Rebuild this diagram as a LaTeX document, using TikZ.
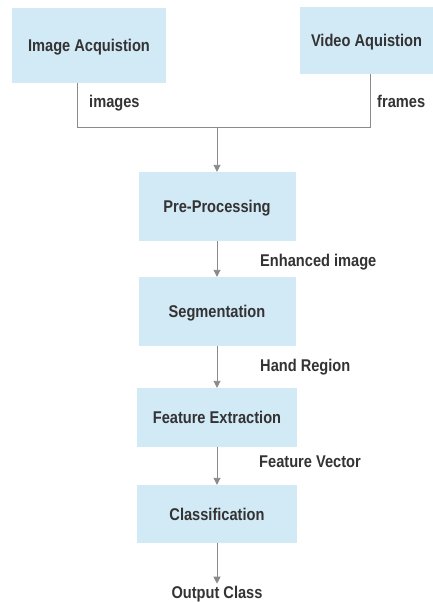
\documentclass[tikz,border=0pt]{standalone}
\usepackage{fontspec}
\setmainfont{Liberation Sans}[FakeStretch=0.86]
\usetikzlibrary{arrows.meta}
\definecolor{boxfill}{HTML}{D2E9F6}
\definecolor{linegray}{HTML}{8A8A8A}
\definecolor{txt}{HTML}{333333}
\begin{document}
\begin{tikzpicture}[x=1pt,y=-1pt,
  font=\fontsize{17}{20}\selectfont\bfseries, text=txt,
  every node/.style={text height=12.2pt, text depth=0pt},
  blk/.style={fill=boxfill, draw=none, inner sep=0pt},
  lbl/.style={inner sep=0pt, anchor=west},
  conn/.style={draw=linegray, line width=0.9pt},
  arr/.style={conn, -{Triangle[length=7pt,width=7pt]}}]
\useasboundingbox (0,0) rectangle (433,602);
\node[blk, minimum width=154pt, minimum height=75pt] (ia) at (89,45.5) {Image Acquistion};
\node[blk, minimum width=133pt, minimum height=67pt] (va) at (366.5,40.5) {Video Aquistion};
\coordinate (j1) at (77,127);
\coordinate (j2) at (370,127);
\coordinate (jm) at (217,127);
\node[blk, minimum width=157pt, minimum height=69pt] (pp) at (217,206.5) {Pre-Processing};
\node[blk, minimum width=157pt, minimum height=69pt] (sg) at (217,311.5) {Segmentation};
\node[blk, minimum width=160pt, minimum height=59pt] (fe) at (217,417.5) {Feature Extraction};
\node[blk, minimum width=160pt, minimum height=58pt] (cl) at (217,514) {Classification};
\node[inner sep=0pt] (oc) at (217,592) {Output Class};
\node[lbl] (limg) at (89,101) {images};
\node[lbl] (lfr) at (377,101) {frames};
\node[lbl] (len) at (260,260) {Enhanced image};
\node[lbl] (lhr) at (260,365) {Hand Region};
\node[lbl] (lfv) at (259,461) {Feature Vector};
\draw[conn] (ia.south -| j1) -- (j1) -- (j2) -- (va.south -| j2);
\draw[arr] (jm) -- (pp.north -| jm);
\draw[arr] (pp) -- (sg);
\draw[arr] (sg) -- (sg.south |- fe.north);
\draw[arr] (fe) -- (cl);
\draw[arr] (cl.south) -- ([yshift=2pt]oc.north);
\end{tikzpicture}
\end{document}
